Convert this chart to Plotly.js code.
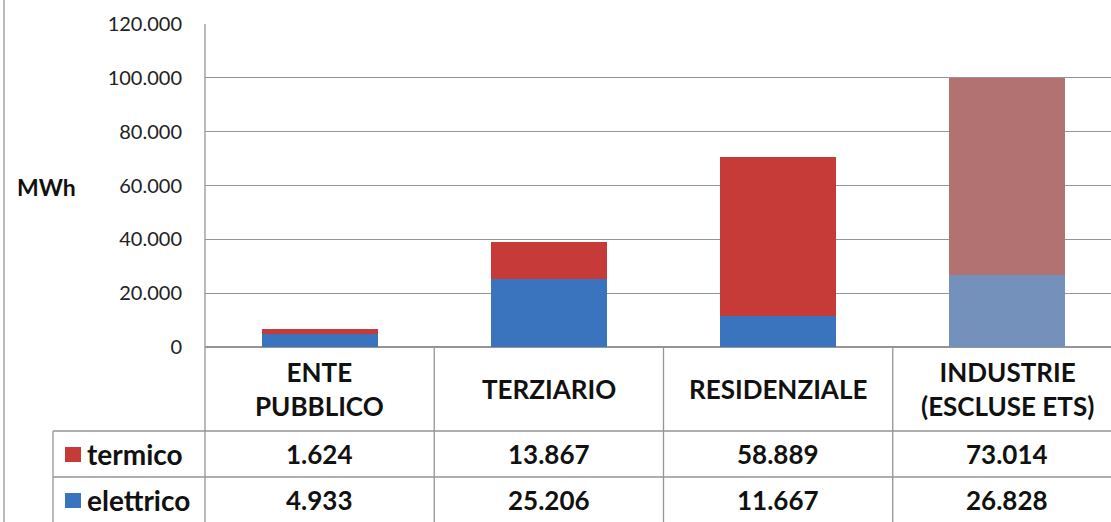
<!DOCTYPE html>
<html>
<head>
<meta charset="utf-8">
<script src="https://cdn.plot.ly/plotly-3.0.1.min.js"></script>
<style>
html,body{margin:0;padding:0;overflow:hidden;background:#fff;}
#chart{width:1122px;height:522px;}
</style>
</head>
<body>
<div id="chart"></div>
<script>
// ---- data ----
const categories = ["ENTE PUBBLICO", "TERZIARIO", "RESIDENZIALE", "INDUSTRIE (ESCLUSE ETS)"];
const headerLabels = ["ENTE<br>PUBBLICO", "TERZIARIO", "RESIDENZIALE", "INDUSTRIE<br>(ESCLUSE ETS)"];
const seriesNames = ["termico", "elettrico"];
const termico = [1624, 13867, 58889, 73014];
const elettrico = [4933, 25206, 11667, 26828];
const yTickVals = [0, 20000, 40000, 60000, 80000, 100000, 120000];
const yAxisLabel = "MWh";

// ---- layout constants (pixels) ----
const W = 1122, H = 522;
const L = 205, T = 24, B = 175, R = 0;
const plotW = W - L - R, plotH = H - T - B;
const px = x => (x - L) / plotW;          // pixel x -> paper x
const py = y => (H - B - y) / plotH;      // pixel y -> paper y

const redCols = ["#c63b37", "#c63b37", "#c63b37", "#b37272"];
const blueCols = ["#3a74bf", "#3a74bf", "#3a74bf", "#7391bb"];

const fmt = v => v.toLocaleString("de-DE");

const traces = [
  {type: "bar", name: seriesNames[1], x: categories, y: elettrico,
   marker: {color: blueCols, line: {width: 0}}, width: 0.507, hoverinfo: "y"},
  {type: "bar", name: seriesNames[0], x: categories, y: termico,
   marker: {color: redCols, line: {width: 0}}, width: 0.507, hoverinfo: "y"}
];

const gray = "#959595";
const shapes = [];
const line = (x0, y0, x1, y1, xref) => shapes.push({type: "line", xref: xref || "paper", yref: "paper",
  x0, y0, x1, y1, line: {color: gray, width: 1.3}});
line(px(4), py(0), px(4), py(H));                 // outer left border
line(0, 1, 0, py(H));                             // axis / table left edge
line(px(53), py(431), 1, py(431));                // table row line
line(px(53), py(477), 1, py(477));                // table row line
line(px(53), py(431), px(53), py(H));             // legend col left edge
[0.5, 1.5, 2.5].forEach(v => line(v, 0, v, py(H), "x"));  // category dividers

// legend keys
shapes.push({type: "rect", xref: "paper", yref: "paper", x0: px(65), x1: px(81), y0: py(447), y1: py(462),
  fillcolor: redCols[0], line: {width: 0}});
shapes.push({type: "rect", xref: "paper", yref: "paper", x0: px(65), x1: px(81), y0: py(493), y1: py(508),
  fillcolor: blueCols[0], line: {width: 0}});

const font = "Lato, 'Open Sans', sans-serif";
const boldFont = {family: font, size: 26, color: "#111", weight: 700};
const legFont = {family: font, size: 28, color: "#111", weight: 700};
const annotations = [];
categories.forEach((c, i) => {
  annotations.push({x: i, xref: "x", y: py(389), yref: "paper", text: "<b>" + headerLabels[i] + "</b>",
    showarrow: false, font: boldFont, xanchor: "center", yanchor: "middle", align: "center"});
  annotations.push({x: i, xref: "x", y: py(454), yref: "paper", text: "<b>" + fmt(termico[i]) + "</b>",
    showarrow: false, font: boldFont, xanchor: "center", yanchor: "middle"});
  annotations.push({x: i, xref: "x", y: py(500), yref: "paper", text: "<b>" + fmt(elettrico[i]) + "</b>",
    showarrow: false, font: boldFont, xanchor: "center", yanchor: "middle"});
});
annotations.push({x: px(85), xref: "paper", y: py(454), yref: "paper", text: "<b>" + seriesNames[0] + "</b>",
  showarrow: false, font: legFont, xanchor: "left", yanchor: "middle"});
annotations.push({x: px(85), xref: "paper", y: py(500), yref: "paper", text: "<b>" + seriesNames[1] + "</b>",
  showarrow: false, font: legFont, xanchor: "left", yanchor: "middle"});
annotations.push({x: px(46), xref: "paper", y: py(187), yref: "paper", text: "<b>" + yAxisLabel + "</b>",
  showarrow: false, font: {family: font, size: 23, color: "#111", weight: 700}, xanchor: "center", yanchor: "middle"});

const layout = {
  width: W, height: H,
  margin: {l: L, r: R, t: T, b: B, pad: 0},
  paper_bgcolor: "#fff", plot_bgcolor: "#fff",
  separators: ",.",
  barmode: "stack",
  showlegend: false,
  xaxis: {type: "category", range: [-0.5, 3.5], showticklabels: false, showgrid: false,
    zeroline: false, showline: false, ticks: ""},
  yaxis: {range: [0, 120000], tickvals: yTickVals, tickformat: ",d", showgrid: true,
    gridcolor: gray, gridwidth: 1.3, zeroline: true, zerolinecolor: gray, zerolinewidth: 1.3,
    showline: false, ticks: "", ticklabelstandoff: 22,
    tickfont: {family: font, size: 20, color: "#222"}},
  shapes, annotations
};

Plotly.newPlot("chart", traces, layout, {displayModeBar: false, staticPlot: true});
</script>
</body>
</html>
